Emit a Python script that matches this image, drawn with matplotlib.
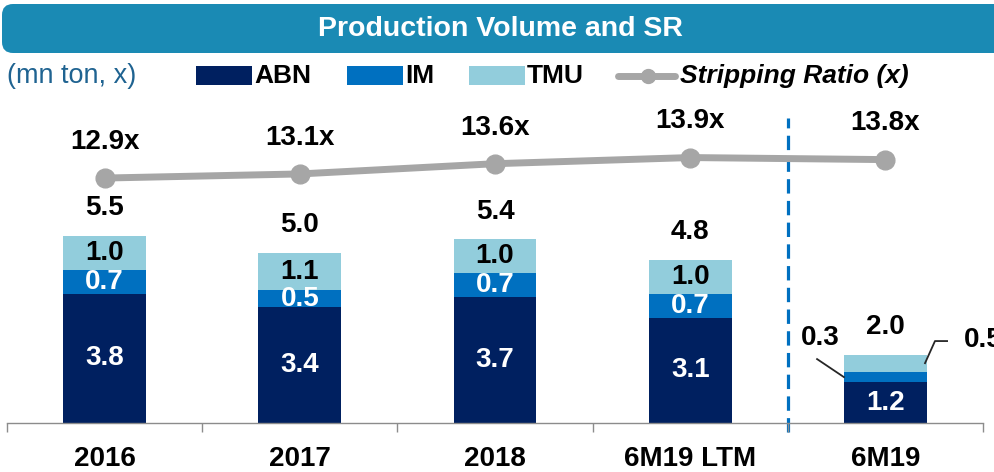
import numpy as np
import matplotlib
matplotlib.use("Agg")
from matplotlib import pyplot as plt
from matplotlib.patches import FancyBboxPatch, Rectangle

plt.rcParams["font.family"] = ["Liberation Sans", "DejaVu Sans"]

# data
periods = ["2016", "2017", "2018", "6M19 LTM", "6M19"]
abn = [3.8, 3.4, 3.7, 3.1, 1.2]
im = [0.7, 0.5, 0.7, 0.7, 0.3]
tmu = [1.0, 1.1, 1.0, 1.0, 0.5]
totals = [5.5, 5.0, 5.4, 4.8, 2.0]
stripping_ratio = [12.9, 13.1, 13.6, 13.9, 13.8]

NAVY = "#002060"
BLUE = "#0070C0"
LIGHT = "#92CDDC"
GREY = "#A6A6A6"
BANNER = "#1A8AB4"

W, H = 994, 472
fig = plt.figure(figsize=(W / 100, H / 100), dpi=100)

# banner + legend drawn on a pixel-space overlay
bg = fig.add_axes([0, 0, 1, 1])
bg.set_xlim(0, W)
bg.set_ylim(H, 0)
bg.axis("off")
bg.add_patch(FancyBboxPatch((2, 4), 1040, 49,
                            boxstyle="round,pad=0,rounding_size=11",
                            fc=BANNER, ec="none"))
bg.text(500, 29, "Production Volume and SR", color="white", fontsize=20.5,
        fontweight="bold", ha="center", va="center")

ly = 76
bg.text(7, ly, "(mn ton, x)", color="#1F6391", fontsize=19.5,
        ha="left", va="center")
for px, col, name in [(196, NAVY, "ABN"), (347, BLUE, "IM"), (469, LIGHT, "TMU")]:
    bg.add_patch(Rectangle((px, ly - 10), 56, 19, fc=col, ec="none"))
    bg.text(px + 58, ly, name, fontsize=19, fontweight="bold",
            ha="left", va="center")
bg.plot([618, 675], [ly, ly], color=GREY, lw=5, solid_capstyle="round")
bg.plot([648], [ly], "o", color=GREY, ms=10)
bg.text(680, ly, "Stripping Ratio (x)", fontsize=19, fontweight="bold",
        fontstyle="italic", ha="left", va="center")

# main chart
ax = fig.add_axes([7 / W, (H - 423) / H, 976 / W, 313 / H])
ax.set_facecolor("none")
x = np.arange(len(periods))
bw = 0.425
abn_a = np.array(abn)
im_top = abn_a + np.array(im)

ax.bar(x, abn, bw, color=NAVY, zorder=2)
ax.bar(x, im, bw, bottom=abn, color=BLUE, zorder=2)
ax.bar(x, tmu, bw, bottom=im_top, color=LIGHT, zorder=2)
ax.set_xlim(-0.5, 4.5)
ax.set_ylim(0, 313 / 34)

lab = dict(fontsize=20, fontweight="bold", ha="center", va="center", zorder=3)
for i in range(len(periods)):
    ax.text(x[i], abn[i] / 2, f"{abn[i]:.1f}", color="white", **lab)
    ax.annotate(f"{totals[i]:.1f}", (x[i], im_top[i] + tmu[i]),
                xytext=(0, 20), textcoords="offset points", **lab)
    if i < len(periods) - 1:
        ax.text(x[i], abn[i] + im[i] / 2, f"{im[i]:.1f}", color="white", **lab)
        ax.text(x[i], im_top[i] + tmu[i] / 2, f"{tmu[i]:.1f}", color="black", **lab)

# small segments of the last bar are labelled outside with leader lines
j = len(periods) - 1
im_mid = abn[j] + im[j] / 2
tmu_mid = im_top[j] + tmu[j] * 0.52
ax.plot([x[j] - 0.35, x[j] - bw / 2], [im_mid + 0.53, im_mid],
        color="#262626", lw=1.3, zorder=3)
ax.text(x[j] - 0.335, 2.5, f"{im[j]:.1f}", **lab)
ax.plot([x[j] + 0.203, x[j] + 0.254, x[j] + 0.316],
        [tmu_mid, 2.41, 2.41], color="#262626", lw=1.3, zorder=3)
ax.text(x[j] + 0.4, 2.44, f"{tmu[j]:.1f}", fontsize=20, fontweight="bold",
        ha="left", va="center", clip_on=False)

ax.axvline(3.5, ymin=-0.029, ymax=0.974, color=BLUE, lw=2.3,
           dashes=(4.5, 2.3), clip_on=False, zorder=1)

for s in ["top", "left", "right"]:
    ax.spines[s].set_visible(False)
ax.spines["bottom"].set_color("#8C8C8C")
ax.spines["bottom"].set_linewidth(1.0)
ax.set_yticks([])
ax.set_xticks(x)
ax.set_xticklabels(periods, fontsize=20, fontweight="bold")
ax.set_xticks(np.arange(-0.5, 5, 1), minor=True)
ax.tick_params(axis="x", which="major", length=0, pad=16.5)
ax.tick_params(axis="x", which="minor", length=6.5, color="#8C8C8C", width=1.0)

# stripping ratio on a hidden secondary scale
ax2 = ax.twinx()
ax2.plot(x, stripping_ratio, color=GREY, lw=5, marker="o", ms=13.5, zorder=4)
ax2.set_ylim(0.95, 16.22)
ax2.axis("off")
for i, v in enumerate(stripping_ratio):
    ax2.annotate(f"{v:.1f}x", (x[i], v), xytext=(0, 26),
                 textcoords="offset points", fontsize=20, fontweight="bold",
                 ha="center", va="center")

fig.savefig("out.png", dpi=100)
